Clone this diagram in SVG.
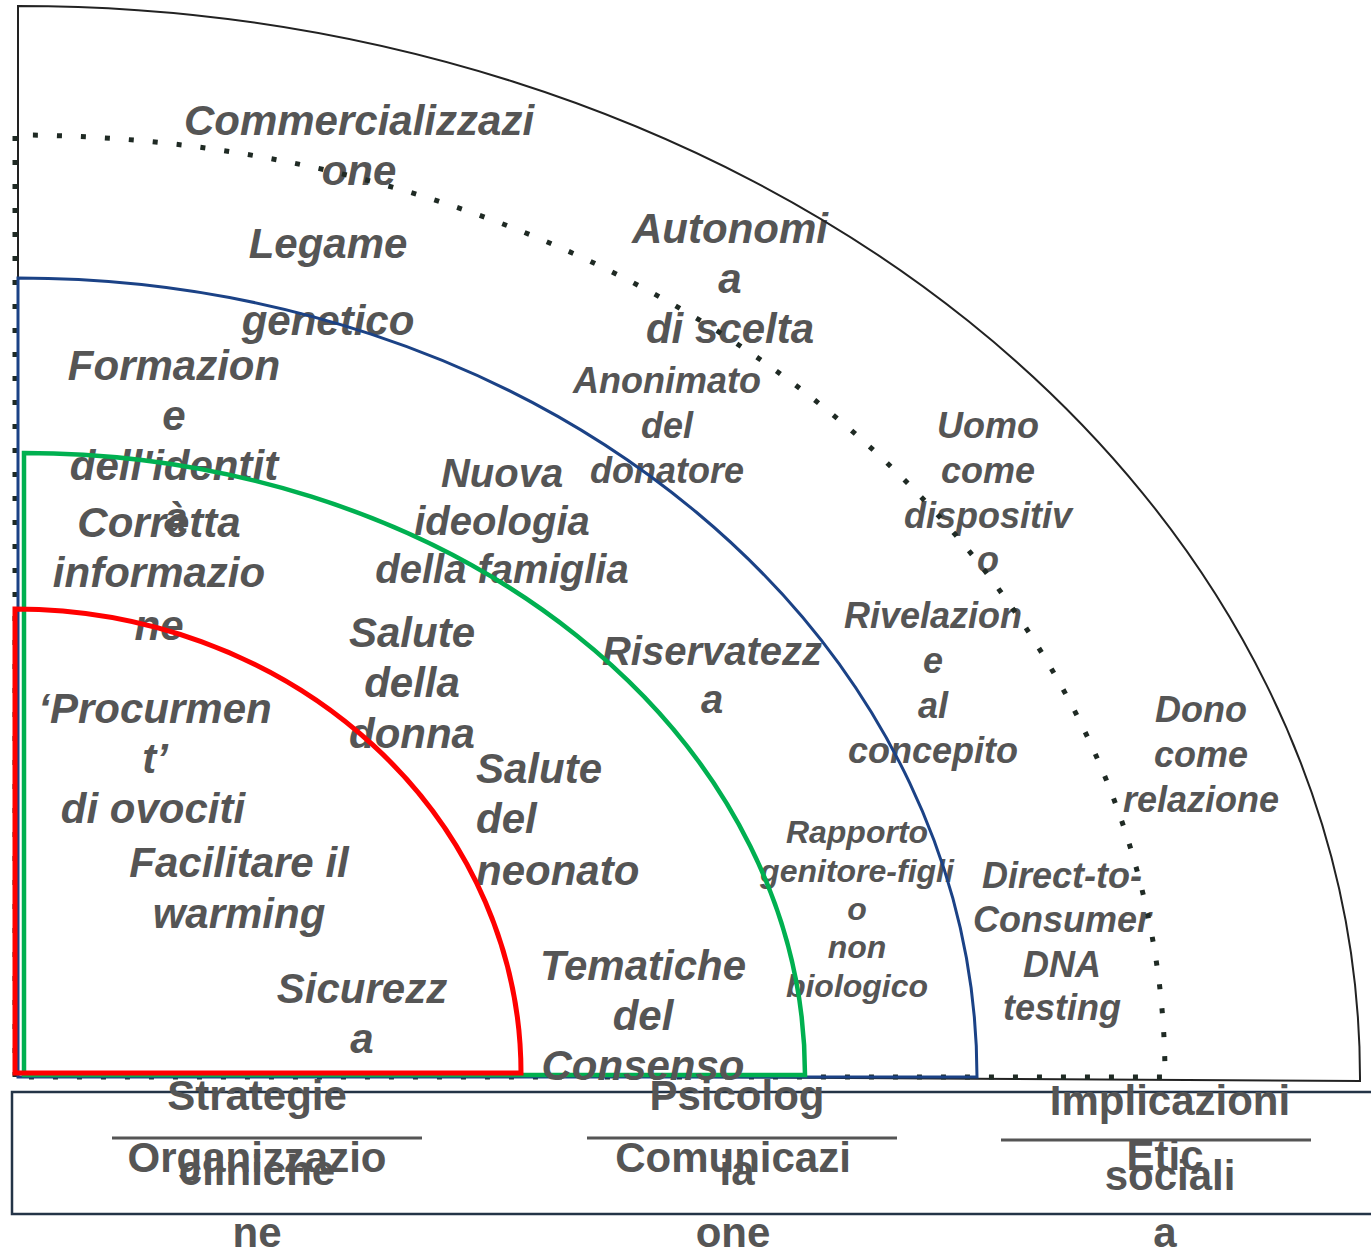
<svg xmlns="http://www.w3.org/2000/svg" width="1371" height="1251" viewBox="0 0 1371 1251">
<style>
text{font-family:"Liberation Sans",Arial,sans-serif;fill:#555555;font-weight:bold;text-anchor:middle}
.i{font-style:italic}
.s42{font-size:42px}
.s40{font-size:40px}
.s36{font-size:36px}
.s32{font-size:32px}
.st{text-anchor:start}
</style>
<rect x="0" y="0" width="1371" height="1251" fill="#ffffff"/>
<g id="nodes">
<g id="commercializzazione" class="i s42"><text x="359" y="135">Commercializzazi</text><text x="359" y="185">one</text></g>
<g id="legame" class="i s42"><text x="328" y="258">Legame</text><text x="328" y="335">genetico</text></g>
<g id="autonomia" class="i s42"><text x="730" y="243">Autonomi</text><text x="730" y="293">a</text><text x="730" y="343">di scelta</text></g>
<g id="formazione" class="i s42"><text x="174" y="380">Formazion</text><text x="174" y="430">e</text><text x="174" y="480">dell'identit</text><text x="176" y="532">à</text></g>
<g id="corretta" class="i s42"><text x="159" y="537">Corretta</text><text x="159" y="587">informazio</text><text x="159" y="640">ne</text></g>
<g id="nuova" class="i s40"><text x="502" y="487">Nuova</text><text x="502" y="535">ideologia</text><text x="502" y="583">della famiglia</text></g>
<g id="anonimato" class="i s36"><text x="667" y="393">Anonimato</text><text x="667" y="438">del</text><text x="667" y="483">donatore</text></g>
<g id="uomo" class="i s36"><text x="988" y="438">Uomo</text><text x="988" y="483">come</text><text x="988" y="528">dispositiv</text><text x="988" y="572">o</text></g>
<g id="rivelazione" class="i s36"><text x="933" y="628">Rivelazion</text><text x="933" y="673">e</text><text x="933" y="718">al</text><text x="933" y="763">concepito</text></g>
<g id="salute-donna" class="i s42"><text x="412" y="647">Salute</text><text x="412" y="697">della</text><text x="412" y="748">donna</text></g>
<g id="riservatezza" class="i s40"><text x="712" y="665">Riservatezz</text><text x="712" y="713">a</text></g>
<g id="procurement" class="i s42"><text x="155" y="723">‘Procurmen</text><text x="155" y="773">t’</text><text x="153" y="823">di ovociti</text></g>
<g id="salute-neonato" class="i s42"><text class="st" x="476" y="783">Salute</text><text class="st" x="476" y="833">del</text><text class="st" x="476" y="885">neonato</text></g>
<g id="facilitare" class="i s42"><text x="239" y="877">Facilitare il</text><text x="239" y="928">warming</text></g>
<g id="sicurezza" class="i s42"><text x="362" y="1003">Sicurezz</text><text x="362" y="1053">a</text></g>
<g id="rapporto" class="i s32"><text x="857" y="843">Rapporto</text><text x="857" y="882">genitore-figli</text><text x="857" y="920">o</text><text x="857" y="958">non</text><text x="857" y="997">biologico</text></g>
<g id="dtc" class="i s36"><text x="1062" y="888">Direct-to-</text><text x="1062" y="932">Consumer</text><text x="1062" y="977">DNA</text><text x="1062" y="1020">testing</text></g>
<g id="dono" class="i s36"><text x="1201" y="722">Dono</text><text x="1201" y="767">come</text><text x="1201" y="812">relazione</text></g>
</g>
<g id="connectors" fill="none">
<path d="M18 1073 L18 6 A1342 1072 0 0 1 1360 1081 Z" stroke="#222222" stroke-width="2"/>
<path d="M15 1077 L15 135 A1150 942 0 0 1 1165 1077 Z" stroke="#1f2a24" stroke-width="5" stroke-dasharray="5 19"/>
<path d="M18 1077 L18 278 A959 799 0 0 1 977 1077 Z" stroke="#1b4286" stroke-width="3"/>
<path d="M24 1075 L24 453 A781 622 0 0 1 805 1075 Z" stroke="#00b050" stroke-width="4.5"/>
<path d="M15 1073 L15 609 A506 464 0 0 1 521 1073 Z" stroke="#ff0000" stroke-width="5"/>
</g>
<g id="tematiche" class="i s42"><text x="643" y="980">Tematiche</text><text x="643" y="1030">del</text><text x="643" y="1080">Consenso</text></g>
<g id="legend">
<rect x="12" y="1092" width="1365" height="122" fill="none" stroke="#243447" stroke-width="2.5"/>
<g stroke="#555555" stroke-width="3"><line x1="112" y1="1138" x2="422" y2="1138"/><line x1="587" y1="1138" x2="897" y2="1138"/><line x1="1001" y1="1140" x2="1311" y2="1140"/></g>
</g>
<g id="strategie" class="s42"><text x="257" y="1110">Strategie</text><text x="257" y="1185">cliniche</text></g>
<g id="organizzazione" class="s42"><text x="257" y="1172">Organizzazio</text><text x="257" y="1247">ne</text></g>
<g id="psicologia" class="s42"><text x="737" y="1110">Psicolog</text><text x="737" y="1185">ia</text></g>
<g id="comunicazione" class="s42"><text x="733" y="1172">Comunicazi</text><text x="733" y="1247">one</text></g>
<g id="implicazioni" class="s42"><text x="1170" y="1115">Implicazioni</text><text x="1170" y="1190">sociali</text></g>
<g id="etica" class="s42"><text x="1165" y="1170">Etic</text><text x="1165" y="1247">a</text></g>
</svg>
